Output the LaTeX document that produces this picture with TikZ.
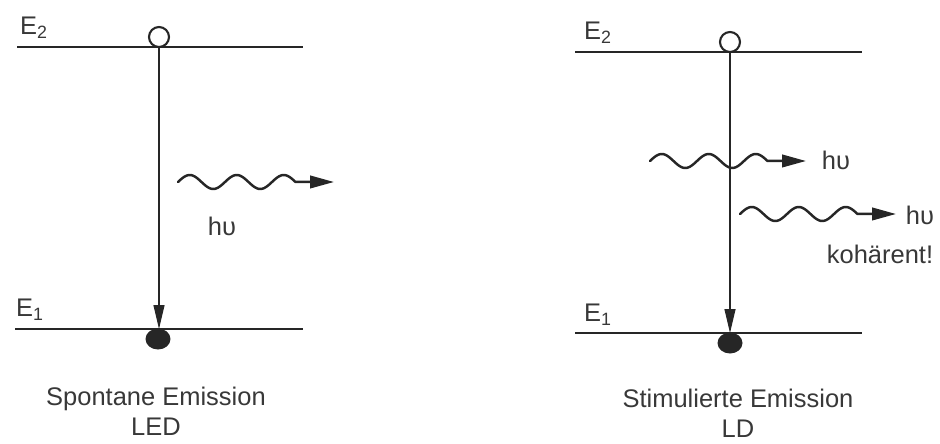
\documentclass[tikz,border=0pt]{standalone}
\usepackage{fontspec}
\setmainfont{Liberation Sans}
\usetikzlibrary{arrows.meta,shapes.geometric}
\definecolor{ink}{HTML}{262626}
\definecolor{txt}{HTML}{383838}
\begin{document}
\begin{tikzpicture}[x=0.02cm,y=-0.02cm,
  level/.style={draw=ink, line width=1.3pt},
  hole/.style={draw=ink, line width=1.2pt, fill=white, circle, inner sep=0pt, minimum size=0.4cm},
  electron/.style={fill=ink, ellipse, inner sep=0pt, minimum width=0.5cm, minimum height=0.42cm},
  trans/.style={draw=ink, line width=0.7pt, -{Triangle[length=4.8mm,width=2.2mm]}},
  wave/.style={draw=ink, line width=1.4pt, line cap=round},
  lbl/.style={text=txt, font=\fontsize{14.5}{17}\selectfont, inner sep=0pt},
  photon/.pic={\draw[wave,-{Triangle[length=4.8mm,width=2.5mm]}]
     plot[domain=0:2.5,samples=80,smooth] ({47*\x},{-7*sin(360*\x)}) -- (156,0);}
]
\useasboundingbox (0,0) rectangle (940,443);

% ---------- left panel ----------
\coordinate (LE2a) at (17,47);
\coordinate (LE2b) at (303,47);
\coordinate (LE1a) at (15,329);
\coordinate (LE1b) at (303,329);
\draw[level] (LE2a) -- (LE2b);
\draw[level] (LE1a) -- (LE1b);
\node[lbl] (LE2l) at (34,28) {E\textsubscript{2}};
\node[lbl] (LE1l) at (30,310) {E\textsubscript{1}};
\node[hole] (Lh) at (159,37) {};
\node[electron] (Le) at (158,339) {};
\coordinate (Ltop) at (159,47);
\coordinate (Lbot) at (159,329);
\draw[trans] (Ltop) -- (Lbot);
\pic (Lph) at (178,182) {photon};
\node[lbl] (Lhv) at (222,226) {hυ};
\node[lbl, align=center] (Lcap) at (156,411) {Spontane Emission\\LED};

% ---------- right panel ----------
\coordinate (RE2a) at (575,52);
\coordinate (RE2b) at (862,52);
\coordinate (RE1a) at (575,333);
\coordinate (RE1b) at (862,333);
\draw[level] (RE2a) -- (RE2b);
\draw[level] (RE1a) -- (RE1b);
\node[lbl] (RE2l) at (598,33) {E\textsubscript{2}};
\node[lbl] (RE1l) at (598,315) {E\textsubscript{1}};
\node[hole] (Rh) at (730,42) {};
\node[electron] (Re) at (730,343) {};
\coordinate (Rtop) at (730,52);
\coordinate (Rbot) at (730,333);
\draw[trans] (Rtop) -- (Rbot);
\pic (Rph1) at (650,161) {photon};
\pic (Rph2) at (740,214) {photon};
\node[lbl] (Rhv1) at (836,160) {hυ};
\node[lbl] (Rhv2) at (920,215) {hυ};
\node[lbl] (Rkoh) at (880,254) {kohärent!};
\node[lbl, align=center] (Rcap) at (738,413) {Stimulierte Emission\\LD};
\end{tikzpicture}
\end{document}
